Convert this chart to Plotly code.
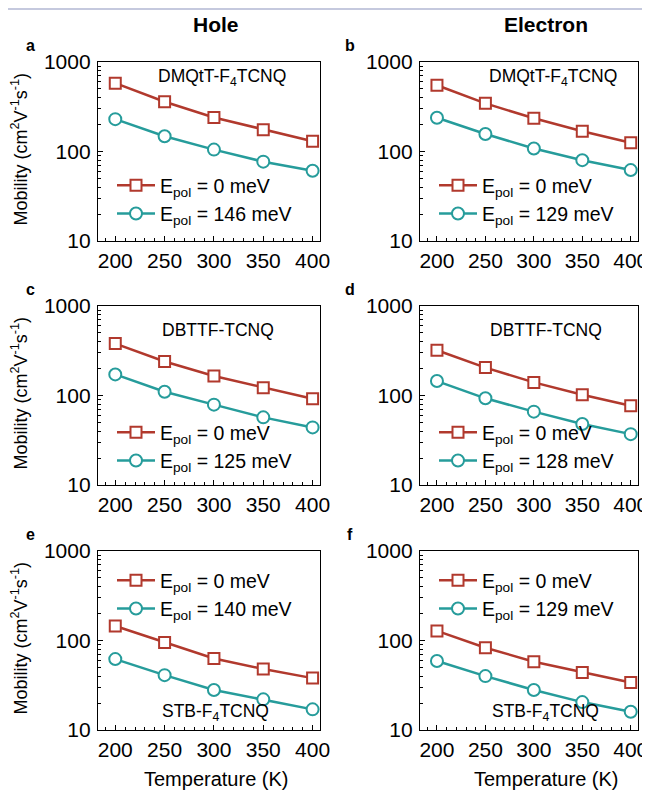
import plotly.graph_objects as go

temperature = [200, 250, 300, 350, 400]

a_red = [580, 360, 240, 175, 130]
a_teal = [230, 148, 105, 77, 61]
b_red = [550, 345, 235, 168, 125]
b_teal = [238, 157, 108, 80, 62]
c_red = [380, 240, 165, 122, 92]
c_teal = [172, 110, 79, 57, 44]
d_red = [320, 205, 140, 102, 77]
d_teal = [145, 93, 66, 48, 37]
e_red = [145, 95, 63, 48, 38]
e_teal = [62, 41, 28, 22, 17]
f_red = [128, 83, 58, 44, 34]
f_teal = [59, 40, 28, 20.5, 16]

letters = ["a", "b", "c", "d", "e", "f"]
compounds = ["DMQtT-F<sub>4</sub>TCNQ", "DMQtT-F<sub>4</sub>TCNQ", "DBTTF-TCNQ",
             "DBTTF-TCNQ", "STB-F<sub>4</sub>TCNQ", "STB-F<sub>4</sub>TCNQ"]
epol_values = [146, 129, 125, 128, 140, 129]
reds = [a_red, b_red, c_red, d_red, e_red, f_red]
teals = [a_teal, b_teal, c_teal, d_teal, e_teal, f_teal]
col_titles = ["Hole", "Electron"]
ytick_vals = [10, 100, 1000]
ytick_text = ["10", "100", "1000"]
xtick_vals = [200, 250, 300, 350, 400]

RED = "#b1392d"
TEAL = "#269c9b"
W, H = 650, 792
OFF = 8  # page body margin
FONT = "Liberation Sans, Arial, sans-serif"

def px(x):
    return (x - OFF) / W

def py(y):
    return 1 - (y - OFF) / H

col_px = [(98, 320), (420, 638)]
row_px = [(62, 241), (306, 485), (551, 730)]
col_text_x = [216, 546]
compound_pos = [(222, 78), (553, 78), (218, 330), (546, 330), (215, 712), (545, 712)]
legend_top = [166, 166, 413, 413, 561, 561]

fig = go.Figure()
annotations = []
layout = {}

def ann(x, y, text, size, angle=0):
    return dict(x=px(x), y=py(y), xref="paper", yref="paper", text=text,
                showarrow=False, xanchor="center", yanchor="middle", textangle=angle,
                font=dict(family=FONT, size=size, color="black"))

for i in range(6):
    r, c = divmod(i, 2)
    n = i + 1
    xa = "x" if n == 1 else f"x{n}"
    ya = "y" if n == 1 else f"y{n}"
    lg = "legend" if n == 1 else f"legend{n}"
    x0, x1 = col_px[c]
    y0, y1 = row_px[r]
    fig.add_trace(go.Scatter(
        x=temperature, y=reds[i], xaxis=xa, yaxis=ya, legend=lg, legendgroup=f"r{n}",
        mode="lines+markers", name="E<sub>pol</sub> = 0 meV",
        line=dict(color=RED, width=2.5),
        marker=dict(symbol="square", size=11, color="white",
                    line=dict(color=RED, width=2)),
    ))
    fig.add_trace(go.Scatter(
        x=temperature, y=teals[i], xaxis=xa, yaxis=ya, legend=lg, legendgroup=f"t{n}",
        mode="lines+markers", name=f"E<sub>pol</sub> = {epol_values[i]} meV",
        line=dict(color=TEAL, width=2.5),
        marker=dict(symbol="circle", size=12, color="white",
                    line=dict(color=TEAL, width=2)),
    ))
    axis_common = dict(showline=True, mirror=True, linecolor="black", linewidth=1.3,
                       ticks="inside", ticklen=5, tickwidth=1.3, tickcolor="black",
                       showgrid=False, zeroline=False, automargin=False,
                       tickfont=dict(family=FONT, size=21, color="black"))
    layout["xaxis" if n == 1 else f"xaxis{n}"] = dict(
        domain=[px(x0), px(x1)], anchor=ya, range=[182.5, 407.5],
        tickvals=xtick_vals,
        minor=dict(ticks="inside", ticklen=3, dtick=10, tickcolor="black", tickwidth=1),
        ticklabelstandoff=1,
        **axis_common)
    layout["yaxis" if n == 1 else f"yaxis{n}"] = dict(
        domain=[py(y1), py(y0)], anchor=xa, type="log", range=[1, 3],
        tickvals=ytick_vals, ticktext=ytick_text,
        minor=dict(ticks="inside", ticklen=3, dtick="D1", tickcolor="black", tickwidth=1),
        ticklabelstandoff=2,
        **axis_common)
    layout[lg] = dict(x=px(x0 + 14), y=py(legend_top[i]), xanchor="left", yanchor="top",
                      bgcolor="rgba(0,0,0,0)", borderwidth=0,
                      font=dict(family=FONT, size=19.5, color="black"),
                      tracegroupgap=0, itemwidth=38)
    cx, cy = compound_pos[i]
    annotations.append(ann(cx, cy, compounds[i], 17.5))
    annotations.append(ann(30 if c == 0 else 350, y0 - 17, f"<b>{letters[i]}</b>", 16))
    if c == 0:
        annotations.append(ann(20, (y0 + y1) / 2 - 2,
                               "Mobility (cm<sup>2</sup>V<sup>-1</sup>s<sup>-1</sup>)", 18, -90))
    if r == 2:
        annotations.append(ann(col_text_x[c], 779, "Temperature (K)", 20))

for c, t in enumerate(col_titles):
    annotations.append(ann(col_text_x[c], 24, f"<b>{t}</b>", 21))

fig.update_layout(
    template="none",
    width=W, height=H, margin=dict(l=0, r=0, t=0, b=0, autoexpand=False),
    paper_bgcolor="white", plot_bgcolor="white",
    showlegend=True, annotations=annotations,
    shapes=[dict(type="line", xref="paper", yref="paper", x0=0, x1=px(645),
                 y0=1 - 1 / H, y1=1 - 1 / H, line=dict(color="#c5c9de", width=2))],
    **layout,
)

fig.write_html("out.html")
